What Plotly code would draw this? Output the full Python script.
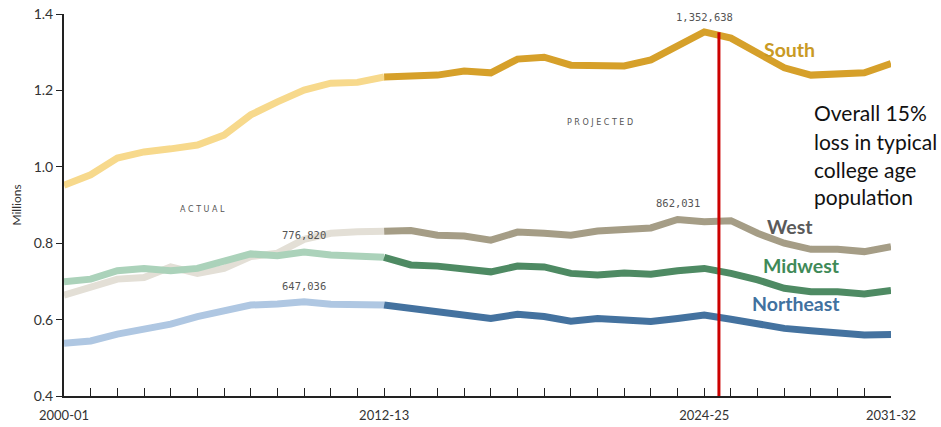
import plotly.graph_objects as go

years = ["2000-01","2001-02","2002-03","2003-04","2004-05","2005-06","2006-07","2007-08",
         "2008-09","2009-10","2010-11","2011-12","2012-13","2013-14","2014-15","2015-16",
         "2016-17","2017-18","2018-19","2019-20","2020-21","2021-22","2022-23","2023-24",
         "2024-25","2025-26","2026-27","2027-28","2028-29","2029-30","2030-31","2031-32"]
tick_labels = {"2000-01": "2000-01", "2012-13": "2012-13", "2024-25": "2024-25", "2031-32": "2031-32"}

south = [0.952, 0.979, 1.023, 1.039, 1.047, 1.057, 1.083, 1.136, 1.170, 1.201, 1.219, 1.221,
         1.235, 1.236, 1.240, 1.251, 1.246, 1.282, 1.287, 1.266, 1.266, 1.264, 1.280, 1.314,
         1.353, 1.337, 1.298, 1.259, 1.240, 1.243, 1.246, 1.270]
west = [0.664, 0.685, 0.706, 0.710, 0.738, 0.721, 0.734, 0.765, 0.774, 0.810, 0.826, 0.830,
        0.831, 0.833, 0.821, 0.819, 0.808, 0.829, 0.826, 0.821, 0.832, 0.836, 0.840, 0.862,
        0.856, 0.859, 0.826, 0.800, 0.784, 0.784, 0.778, 0.791]
midwest = [0.699, 0.706, 0.728, 0.734, 0.728, 0.734, 0.753, 0.772, 0.767, 0.777, 0.769, 0.765,
           0.763, 0.743, 0.740, 0.734, 0.725, 0.740, 0.738, 0.721, 0.717, 0.722, 0.719, 0.728,
           0.734, 0.721, 0.704, 0.682, 0.673, 0.673, 0.667, 0.676]
northeast = [0.538, 0.544, 0.562, 0.577, 0.588, 0.608, 0.623, 0.638, 0.641, 0.647, 0.640, 0.638,
             0.638, 0.630, 0.623, 0.612, 0.603, 0.614, 0.608, 0.596, 0.603, 0.599, 0.595, 0.603,
             0.612, 0.601, 0.588, 0.577, 0.571, 0.567, 0.560, 0.561]
note_lines = ["Overall 15%", "loss in typical", "college age", "population"]

split = 12  # last actual year index (2012-13)
series = [
    ("South", south, "#F7D98C", "#D6A02A"),
    ("West", west, "#E3DFD6", "#A59D86"),
    ("Midwest", midwest, "#ABD2BA", "#4E8A63"),
    ("Northeast", northeast, "#AFC7E2", "#44729F"),
]

xs = list(range(len(years)))
fig = go.Figure()
for name, vals, light, dark in series:
    fig.add_trace(go.Scatter(x=xs[:split + 1], y=vals[:split + 1], mode="lines",
                             line=dict(color=light, width=7), name=name + " actual",
                             showlegend=False, cliponaxis=False, hoverinfo="skip"))
for name, vals, light, dark in series:
    fig.add_trace(go.Scatter(x=xs[split:], y=vals[split:], mode="lines",
                             line=dict(color=dark, width=7), name=name + " projected",
                             showlegend=False, cliponaxis=False))

# red vertical marker line
red_x = 24.55
fig.add_shape(type="line", x0=red_x, x1=red_x, y0=0.4, y1=1.352, xref="x", yref="y",
              line=dict(color="#CC0000", width=3))

small = dict(family="DejaVu Sans Mono", size=10.5, color="#555555")
lab = 19.5
anns = [
    dict(x=years.index("2024-25"), y=1.352638, text="1,352,638", yshift=15, font=small),
    dict(x=years.index("2023-24"), y=0.862031, text="862,031", yshift=17, font=small),
    dict(x=years.index("2009-10"), y=0.776820, text="776,820", yshift=17, font=small),
    dict(x=years.index("2009-10"), y=0.647036, text="647,036", yshift=16, font=small),
    dict(x=5.2, y=0.889, text="A C T U A L", font=dict(family="DejaVu Sans", size=8, color="#555555")),
    dict(x=20.1, y=1.116, text="P R O J E C T E D", font=dict(family="DejaVu Sans", size=8, color="#555555")),
    dict(x=27.2, y=1.308, text="<b>South</b>", font=dict(family="Lato", size=lab, color="#C99A24")),
    dict(x=27.2, y=0.843, text="<b>West</b>", font=dict(family="Lato", size=lab, color="#5A5A5A")),
    dict(x=27.65, y=0.741, text="<b>Midwest</b>", font=dict(family="Lato", size=lab, color="#3F8A58")),
    dict(x=27.45, y=0.641, text="<b>Northeast</b>", font=dict(family="Lato", size=lab, color="#41719F")),
]
for a in anns:
    a.update(xref="x", yref="y", showarrow=False)
    fig.add_annotation(**a)

note_y = [1.141, 1.065, 0.992, 0.921]
for line, yv in zip(note_lines, note_y):
    fig.add_annotation(xref="x", yref="y", x=28.05, y=yv, xanchor="left", yanchor="middle",
                       text=line, showarrow=False,
                       font=dict(family="Lato", size=21, color="#111111"))

fig.update_layout(
    width=941, height=427,
    margin=dict(l=64, r=50, t=14, b=31, autoexpand=False),
    plot_bgcolor="white", paper_bgcolor="white",
    font=dict(family="Lato", size=13, color="#333333"),
)
fig.update_xaxes(range=[0, 31], tickmode="array", tickvals=xs,
                 ticktext=[tick_labels.get(y, "") for y in years],
                 ticks="inside", ticklen=8, tickcolor="#222222", tickwidth=1,
                 showline=True, linecolor="#222222", linewidth=2, showgrid=False,
                 zeroline=False, automargin=False, ticklabelstandoff=6,
                 tickfont=dict(family="Lato", size=13, color="#333333"))
fig.update_yaxes(range=[0.4, 1.4], tickvals=[0.4, 0.6, 0.8, 1.0, 1.2, 1.4], tickformat=".1f",
                 ticks="outside", ticklen=6, tickcolor="#222222", tickwidth=1,
                 showline=True, linecolor="#222222", linewidth=2, showgrid=False,
                 zeroline=False, automargin=False,
                 tickfont=dict(family="Lato", size=14, color="#333333"),
                 title=dict(text="Millions", font=dict(family="Lato", size=12, color="#333333"),
                            standoff=9))
fig.write_html("out.html", config={"displayModeBar": False},
               post_script="document.body.style.margin='0';document.body.style.overflow='hidden';")
